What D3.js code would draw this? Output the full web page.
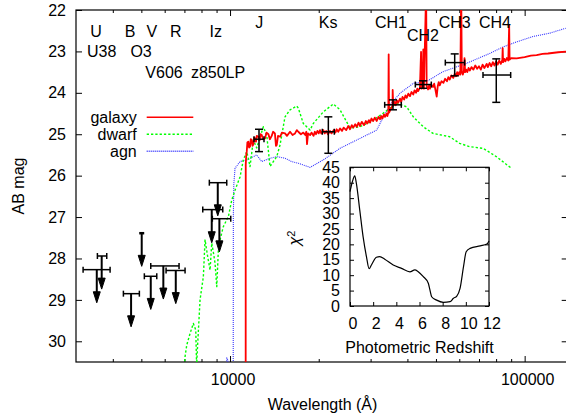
<!DOCTYPE html>
<html><head><meta charset="utf-8">
<script src="https://cdn.jsdelivr.net/npm/d3@7"></script>
<style>
body{margin:0;background:#fff}
text{font-family:"Liberation Sans",Arial,Helvetica,sans-serif;font-size:16px;fill:#000}
</style>
</head><body>
<svg id="chart" width="566" height="414"></svg>
<script>
// ---------------- DATA ----------------
// template spectra: [wavelength (Å), AB mag]
const galaxy = [
 [11300,30.6],[11305,25.74],[11350,25.50],[11395,25.42],[11450,25.20],[11537,25.18],[11600,25.32],[11691,25.30],
 [11760,25.12],[11847,25.14],[11920,25.28],[12000,25.24],[12080,25.08],[12156,25.10],[12250,25.18],[12320,25.04],
 [12480,25.06],[12600,25.14],[12700,25.00],[12810,25.02],[12950,25.12],[13146,25.10],[13300,24.96],[13500,25.00],
 [13650,25.12],[13850,25.04],[14000,24.94],[14200,24.98],[14320,25.28],[14404,25.26],[14550,25.04],[14800,25.06],
 [15000,24.96],[15370,24.98],[15600,25.04],[15980,24.94],[16300,25.02],[16620,24.98],[16850,24.90],[17050,24.94],
 [17400,25.00],[17730,24.96],[18000,25.02],[18150,24.94],[18250,25.24],[18400,24.98],[18700,25.02],[18900,24.96],
 [19200,25.04],[19400,24.94],[19580,25.00],[19800,24.92],[20000,24.98],[20200,24.90],[20400,24.98],[20730,24.90],
 [20950,24.98],[21200,24.92],[21500,25.00],[21840,24.92],[22100,24.98],[22500,24.90],[22800,24.96],[23000,24.88],
 [23300,24.94],[23620,24.86],[24000,24.92],[24300,24.84],[24800,24.90],[25200,24.80],[25540,24.88],[25900,24.78],
 [26200,24.84],[26600,24.76],[26910,24.82],[27300,24.72],[27600,24.80],[28000,24.70],[28500,24.78],[28900,24.68],
 [29200,24.74],[29600,24.66],[29870,24.72],[30200,24.62],[30600,24.68],[31000,24.60],[31470,24.68],[31900,24.58],
 [32280,24.64],[32600,24.56],[32900,24.62],[33300,24.52],[33570,24.58],[34000,24.50],[34200,24.56],[34450,24.48],
 [34550,23.07],[34650,24.48],[35200,24.38],[35600,24.32],[35650,23.93],[35800,24.30],[36200,24.22],[36500,24.30],
 [36790,24.18],[37200,24.24],[37750,24.14],[38100,24.22],[38500,24.10],[39000,24.16],[39400,24.06],[39780,24.12],
 [40300,24.02],[40820,24.08],[41300,23.98],[41880,24.04],[42300,23.94],[42800,24.00],[43200,23.90],[43500,23.96],
 [44100,23.88],[44500,23.01],[44700,23.90],[45000,23.84],[45300,22.95],[45500,23.90],[46300,21.5],[46500,23.84],
 [47000,23.92],[47400,23.82],[47720,23.90],[48200,23.80],[48850,23.86],[49300,23.78],[49700,23.90],[50290,24.09],
 [50700,23.84],[51100,23.74],[51500,23.82],[52200,23.72],[53000,23.76],[53700,23.66],[54500,23.72],[55100,23.62],
 [55660,23.68],[56400,23.58],[57250,23.64],[57900,23.54],[58500,23.60],[59000,23.50],[59500,23.58],[60000,23.50],
 [60500,23.56],[60900,21.5],[61200,23.50],[61700,23.56],[62200,23.46],[62500,23.16],[62800,23.50],[63350,23.44],
 [63900,23.50],[64500,23.40],[65200,23.46],[66000,23.38],[67000,23.44],[68000,23.34],[69000,23.42],[70000,23.36],
 [71000,23.44],[72000,23.32],[73000,23.40],[74310,23.30],[75000,23.38],[76000,23.28],[77000,23.36],[78000,23.26],
 [79000,23.34],[80000,23.24],[81000,23.32],[82000,23.22],[83000,23.30],[84000,23.20],[84220,22.92],[84500,23.26],
 [85300,23.18],[86000,23.24],[87000,23.16],[88000,23.22],[88600,22.36],[88900,23.20],[90000,23.16],[93940,23.17],
 [100000,23.14],[105000,23.10],[109800,23.09],[115000,23.06],[120000,23.05],[130000,23.02],[140000,23.00]
];
const dwarf = [
 [6950,31.0],[7036,30.37],[7130,30.09],[7316,29.81],[7507,29.57],[7650,29.73],[7700,30.6],[7760,30.1],[7910,29.00],
 [8117,28.44],[8226,27.55],[8380,27.92],[8554,28.28],[8667,27.63],[8800,27.90],[8895,28.12],[9014,28.68],[9127,27.80],
 [9249,27.55],[9490,27.23],[9868,26.99],[10134,26.59],[10399,26.35],[10813,26.03],[11094,25.62],[11395,25.42],
 [11691,25.78],[11997,25.14],[12319,25.33],[12972,24.82],[13320,25.02],[13668,25.78],[14404,25.54],[14780,25.26],
 [15368,24.58],[15980,24.41],[16840,24.32],[17052,24.37],[17730,24.74],[18685,24.90],[19173,24.74],[20730,24.46],
 [22410,24.27],[23620,24.41],[25540,24.85],[27610,24.82],[30640,24.66],[33130,24.49],[36790,24.25],[39780,24.34],
 [41880,24.58],[45280,24.82],[48850,24.98],[55660,25.06],[60170,25.22],[65050,25.30],[72210,25.34],[80110,25.54],
 [90060,25.82]
];
const agn = [
 [9700,31.0],[9750,30.40],[9830,30.45],[9900,31.0],[10250,31.0],[10261,27.0],[10300,26.20],[10399,25.82],
 [10813,25.66],[11395,25.62],[12319,25.50],[12810,25.66],[13668,25.58],[14404,25.54],[15368,25.58],[16195,25.66],
 [17052,25.70],[18685,25.80],[20730,25.62],[23620,25.34],[27610,25.10],[31470,24.90],[33130,24.58],[34900,24.29],
 [37750,24.01],[41880,23.77],[46360,23.73],[52820,23.49],[63350,23.29],[76070,23.05],[84610,22.89],[93940,22.77],
 [106700,22.64],[121600,22.56],[137800,22.44]
];
const seriesNames = ["galaxy","dwarf","agn"];

// detections: [λ, λlo, λhi, mag, magLo, magHi]
const detections = [
 [12540,12060,13040,25.12,24.88,25.42],
 [21560,20570,22590,24.94,24.58,25.46],
 [35730,33490,38130,24.29,24.17,24.41],
 [45170,42550,48210,23.80,23.71,23.89],
 [57880,53790,62580,23.27,23.06,23.59],
 [80110,72210,89650,23.57,23.18,24.23]
];
// upper limits: [λ, λlo, λhi, mag]
const upperLimits = [
 [3529,3171,3916,28.27],[3667,3546,3815,27.94],[5014,null,null,27.39],[4614,4345,4923,28.85],
 [5381,5118,5640,28.43],[5937,5381,6713,28.18],[6543,6065,7036,28.29],
 [9085,8506,9745,26.17],[8667,8079,9446,26.82],[9200,8708,10055,27.04]
];
// filter labels: [text, λ, mag]
const bandLabels = [
 ["U",3509,22.66],["B",4577,22.66],["V",5424,22.66],["R",6543,22.66],["Iz",8943,22.66],
 ["J",12570,22.44],["Ks",21510,22.44],["CH1",35180,22.44],["CH2",45170,22.74],["CH3",57880,22.44],["CH4",79310,22.44],
 ["U38",3667,23.14],["O3",4989,23.14],["V606",5970,23.65],["z850LP",9105,23.65]
];
// inset: chi^2 vs photometric redshift
const chiZ   = [0,0.21,0.41,0.55,0.84,1.13,1.42,1.65,1.85,2.28,2.57,3.0,3.73,4.45,5.17,5.6,5.89,6.33,6.76,6.9,7.05,7.48,8.06,8.64,8.93,9.22,9.5,9.8,10.03,10.37,11.24,11.82,12];
const chiVal = [37.1,40.4,42.2,39.8,31.2,22.5,16.0,12.1,13.3,15.8,16.0,15.2,13.3,12.2,11.1,11.7,11.1,9.5,7.4,5.2,3.0,1.9,1.2,1.4,2.5,3.2,5.7,12.8,17.6,18.7,19.5,20.1,21.1];

const yTicks = [22,23,24,25,26,27,28,29,30];
const xMajor = [10000,100000];
const xMinor = [4000,5000,6000,7000,8000,9000,20000,30000,40000,50000,60000,70000,80000,90000];
const insetXTicks = [0,2,4,6,8,10,12];
const insetYTicks = [0,5,10,15,20,25,30,35,40,45];

// ---------------- DRAW ----------------
const svg = d3.select("#chart");
const L=76, R=567.7, T=10, B=362;
const x = d3.scaleLog().domain([3000,140000]).range([L,R]);
const y = d3.scaleLinear().domain([22,30.5]).range([T,B]);

svg.append("defs").append("clipPath").attr("id","clip")
  .append("rect").attr("x",L).attr("y",T).attr("width",R-L).attr("height",B-T);

function noDomain(g){ g.select(".domain").remove(); g.selectAll("line").attr("stroke","#000"); }
const tfont = g=>g.selectAll("text").style("font-size","16px").style("font-family","Liberation Sans, Arial, sans-serif");
svg.append("g").attr("transform",`translate(0,${B})`)
  .call(d3.axisBottom(x).tickValues(xMajor).tickFormat(d3.format("d")).tickSize(-6).tickPadding(12))
  .call(noDomain).call(tfont).call(g=>g.selectAll("text").attr("dx",2.5));
svg.append("g").attr("transform",`translate(0,${B})`)
  .call(d3.axisBottom(x).tickValues(xMinor).tickFormat("").tickSize(-3)).call(noDomain);
svg.append("g").attr("transform",`translate(0,${T})`)
  .call(d3.axisTop(x).tickValues(xMajor).tickFormat("").tickSize(-6)).call(noDomain);
svg.append("g").attr("transform",`translate(0,${T})`)
  .call(d3.axisTop(x).tickValues(xMinor).tickFormat("").tickSize(-3)).call(noDomain);
svg.append("g").attr("transform",`translate(${L},0)`)
  .call(d3.axisLeft(y).tickValues(yTicks).tickFormat(d3.format("d")).tickSize(-6).tickPadding(10))
  .call(noDomain).call(tfont);
svg.append("g").attr("transform",`translate(${R},0)`)
  .call(d3.axisRight(y).tickValues(yTicks).tickFormat("").tickSize(-6)).call(noDomain);

svg.append("rect").attr("x",L).attr("y",T).attr("width",R-L).attr("height",B-T)
  .attr("fill","none").attr("stroke","#000").attr("stroke-width",1.2);

svg.append("text").attr("x",322.5).attr("y",410).attr("text-anchor","middle").text("Wavelength (Å)");
svg.append("text").attr("transform","translate(24,186) rotate(-90)").attr("text-anchor","middle").text("AB mag");

// spectra
const line = d3.line().x(d=>x(d[0])).y(d=>y(d[1]));
const specG = svg.append("g").attr("clip-path","url(#clip)");
const styles = {
  galaxy:{stroke:"#ff0000",w:1.8,dash:null},
  dwarf:{stroke:"#00ff00",w:1.4,dash:"2.3,2"},
  agn:{stroke:"#3333ff",w:1.1,dash:"1,1"}
};
const specData = {galaxy, dwarf, agn};
["agn","dwarf","galaxy"].forEach(k=>{
  const st=styles[k];
  specG.append("path").datum(specData[k]).attr("d",line).attr("fill","none")
    .attr("stroke",st.stroke).attr("stroke-width",st.w).attr("stroke-dasharray",st.dash)
    .attr("stroke-linejoin","round");
});

// photometry
const ph = svg.append("g").attr("stroke","#000").attr("stroke-width",1.5).attr("fill","none");
detections.forEach(d=>{
  const [w,wl,wh,m,ml,mh]=d;
  const cx=x(w), cy=y(m);
  ph.append("line").attr("x1",x(wl)).attr("x2",x(wh)).attr("y1",cy).attr("y2",cy);
  ph.append("line").attr("x1",x(wl)).attr("x2",x(wl)).attr("y1",cy-3).attr("y2",cy+3);
  ph.append("line").attr("x1",x(wh)).attr("x2",x(wh)).attr("y1",cy-3).attr("y2",cy+3);
  ph.append("line").attr("x1",cx).attr("x2",cx).attr("y1",y(ml)).attr("y2",y(mh));
  ph.append("line").attr("x1",cx-4).attr("x2",cx+4).attr("y1",y(ml)).attr("y2",y(ml));
  ph.append("line").attr("x1",cx-4).attr("x2",cx+4).attr("y1",y(mh)).attr("y2",y(mh));
});
const arrowMag = 0.8, headLen = 11, headW = 3.5;
upperLimits.forEach(d=>{
  const [w,wl,wh,m]=d;
  const cx=x(w), cy=y(m), ey=y(m+arrowMag);
  if(wl!==null){
    ph.append("line").attr("x1",x(wl)).attr("x2",x(wh)).attr("y1",cy).attr("y2",cy);
    ph.append("line").attr("x1",x(wl)).attr("x2",x(wl)).attr("y1",cy-3).attr("y2",cy+3);
    ph.append("line").attr("x1",x(wh)).attr("x2",x(wh)).attr("y1",cy-3).attr("y2",cy+3);
  } else {
    ph.append("line").attr("x1",cx-2.5).attr("x2",cx+2.5).attr("y1",cy).attr("y2",cy).attr("stroke-width",2.5);
  }
  ph.append("line").attr("x1",cx).attr("x2",cx).attr("y1",cy).attr("y2",ey-headLen+1).attr("stroke-width",2);
  ph.append("path").attr("d",`M${cx-headW},${ey-headLen}L${cx+headW},${ey-headLen}L${cx},${ey}Z`)
    .attr("fill","#000").attr("stroke","#000").attr("stroke-width",1);
});

// band labels
svg.append("g").selectAll("text").data(bandLabels).join("text")
  .attr("x",d=>x(d[1])).attr("y",d=>y(d[2])).attr("text-anchor","middle").text(d=>d[0]);

// legend
const leg = svg.append("g");
seriesNames.forEach((n,i)=>{
  const ly = 117.3 + i*17;
  leg.append("text").attr("x",136.7).attr("y",ly).attr("dy","0.35em").attr("text-anchor","end").text(n);
  const st=styles[n];
  leg.append("line").attr("x1",146.7).attr("x2",193.3).attr("y1",ly).attr("y2",ly)
    .attr("stroke",st.stroke).attr("stroke-width",st.dash?1.4:1.5).attr("stroke-dasharray",st.dash);
});

// ---------------- INSET ----------------
const iL=350, iR=489, iT=167.3, iB=306;
const xi = d3.scaleLinear().domain([0,12]).range([iL,iR]);
const yi = d3.scaleLinear().domain([0,45]).range([iB,iT]);
const ig = svg.append("g");
ig.append("g").attr("transform",`translate(0,${iB})`)
  .call(d3.axisBottom(xi).tickValues(insetXTicks).tickSize(-4).tickPadding(12))
  .call(noDomain).call(tfont).call(g=>g.selectAll("text").attr("dx",2.5));
ig.append("g").attr("transform",`translate(0,${iT})`)
  .call(d3.axisTop(xi).tickValues(insetXTicks).tickFormat("").tickSize(-4)).call(noDomain);
ig.append("g").attr("transform",`translate(${iL},0)`)
  .call(d3.axisLeft(yi).tickValues(insetYTicks).tickSize(-4).tickPadding(10))
  .call(noDomain).call(tfont);
ig.append("g").attr("transform",`translate(${iR},0)`)
  .call(d3.axisRight(yi).tickValues(insetYTicks).tickFormat("").tickSize(-4)).call(noDomain);
ig.append("rect").attr("x",iL).attr("y",iT).attr("width",iR-iL).attr("height",iB-iT)
  .attr("fill","none").attr("stroke","#000").attr("stroke-width",1.2);
const chiLine = d3.line().curve(d3.curveMonotoneX).x((d,i)=>xi(chiZ[i])).y(d=>yi(d));
ig.append("path").datum(chiVal).attr("d",chiLine).attr("fill","none").attr("stroke","#000").attr("stroke-width",1.2);
ig.append("text").attr("x",419.5).attr("y",353).attr("text-anchor","middle").text("Photometric Redshift");
const chi = ig.append("text").attr("transform","translate(300,238) rotate(-90)").attr("text-anchor","middle");
chi.append("tspan").style("font-style","italic").text("χ");
chi.append("tspan").attr("dy","-0.5em").style("font-size","11px").text("2");
</script>
</body></html>
